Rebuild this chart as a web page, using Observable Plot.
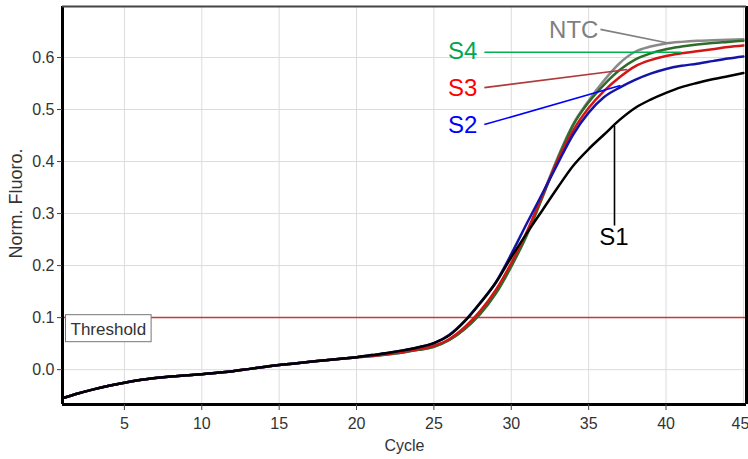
<!DOCTYPE html>
<html><head><meta charset="utf-8">
<script src="https://cdn.jsdelivr.net/npm/d3@7"></script>
<script src="https://cdn.jsdelivr.net/npm/@observablehq/plot@0.6"></script>
<style>body{margin:0;background:#fff;overflow:hidden;}</style>
</head><body><div id="chart"></div>
<script>
// ---- data ----
const cycles = d3.range(1, 46);
const seriesNames = ["NTC", "S4", "S3", "S2", "S1"];
const baseline = [-0.055,-0.046,-0.038,-0.031,-0.025,-0.020,-0.016,-0.013,-0.011,-0.009,
  -0.006,-0.003,0.001,0.005,0.009,0.012,0.015,0.018,0.021,0.024];
const s1Late = [0.028,0.032,0.037,0.043,0.051,0.066,0.093,0.128,0.167,0.216,0.262,0.306,0.350,0.392,0.424,0.452,0.480,0.503,0.519,0.532,0.543,0.551,0.558,0.564,0.570];
const s2Late = [0.028,0.032,0.037,0.043,0.051,0.067,0.094,0.129,0.168,0.222,0.281,0.338,0.396,0.452,0.494,0.524,0.542,0.557,0.569,0.578,0.584,0.588,0.593,0.598,0.602];
const s3Late = [0.026,0.030,0.034,0.039,0.046,0.059,0.082,0.113,0.153,0.205,0.265,0.334,0.402,0.460,0.503,0.536,0.562,0.583,0.595,0.603,0.608,0.612,0.616,0.620,0.623];
const s4Late = [0.026,0.029,0.033,0.038,0.044,0.057,0.078,0.107,0.146,0.198,0.258,0.330,0.405,0.470,0.514,0.548,0.576,0.596,0.608,0.616,0.621,0.625,0.628,0.630,0.632];
const ntcLate = [0.026,0.029,0.033,0.038,0.044,0.057,0.079,0.108,0.148,0.201,0.262,0.334,0.408,0.472,0.517,0.556,0.589,0.611,0.621,0.627,0.630,0.632,0.633,0.634,0.635];
const S1 = baseline.concat(s1Late);
const S2 = baseline.concat(s2Late);
const S3 = baseline.concat(s3Late);
const S4 = baseline.concat(s4Late);
const NTC = baseline.concat(ntcLate);
const threshold = [0.1];
const thresholdLabel = "Threshold";
const xTicks = [5, 10, 15, 20, 25, 30, 35, 40, 45];
const yTicks = [0, 0.1, 0.2, 0.3, 0.4, 0.5, 0.6];
const xDomain = [1, 45.2];
const yDomain = [-0.067, 0.698];
const xTitle = "Cycle";
const yTitle = "Norm. Fluoro.";

// annotations (data coordinates)
const labelNames = ["NTC", "S4", "S3", "S2", "S1"];
const labelCycle = [35.63, 27.81, 27.81, 27.81, 36.63];
const labelValue = [0.652, 0.612, 0.541, 0.470, 0.255];
const leaderCycle1 = [35.76, 28.26, 28.26, 28.26, 36.67];
const leaderValue1 = [0.654, 0.610, 0.542, 0.471, 0.469];
const leaderCycle2 = [40.29, 41.0, 37.5, 37.05, 36.67];
const leaderValue2 = [0.627, 0.610, 0.577, 0.546, 0.277];

// styles
const curveColors = {NTC: "#8a8a8a", S4: "#2f6b2a", S3: "#d41515", S2: "#1414a8", S1: "#000000"};
const labelColors = ["#7f7f7f", "#00a651", "#ff0000", "#0000ff", "#000000"];
const leaderColors = ["#808080", "#00b050", "#b03a3a", "#0000ff", "#000000"];
const labelAnchors = ["end", "end", "end", "end", "middle"];

const seriesData = {NTC, S4, S3, S2, S1};
const rows = [];
for (const name of seriesNames) cycles.forEach((c, i) => rows.push({series: name, cycle: c, value: seriesData[name][i]}));

const lastTick = xTicks[xTicks.length - 1];
const marks = [
  Plot.gridX(xTicks, {stroke: "#dcdcdc", strokeOpacity: 1}),
  Plot.gridY(yTicks, {stroke: "#dcdcdc", strokeOpacity: 1}),
  Plot.ruleY(threshold, {stroke: "#c8393b", strokeWidth: 1.5}),
  Plot.text([{c: xDomain[0], v: threshold[0], t: thresholdLabel}], {x: "c", y: "v", text: "t", dx: 8, dy: 5, textAnchor: "start", lineAnchor: "top", fill: "#333", fontSize: 17, className: "thr"}),
];
for (const name of seriesNames) {
  marks.push(Plot.line(rows.filter(d => d.series === name), {x: "cycle", y: "value", stroke: curveColors[name], strokeWidth: 2.5, curve: "monotone-x"}));
}
labelNames.forEach((n, i) => {
  marks.push(Plot.link([i], {x1: j => leaderCycle1[j], y1: j => leaderValue1[j], x2: j => leaderCycle2[j], y2: j => leaderValue2[j], stroke: leaderColors[i], strokeWidth: 1.6}));
  marks.push(Plot.text([i], {x: j => labelCycle[j], y: j => labelValue[j], text: j => labelNames[j], fill: labelColors[i], fontSize: 24, textAnchor: labelAnchors[i]}));
});
marks.push(
  Plot.ruleX([xDomain[0]], {stroke: "#000", strokeWidth: 3}),
  Plot.ruleX([xDomain[1]], {stroke: "#000", strokeWidth: 3}),
  Plot.ruleY([yDomain[0]], {stroke: "#000", strokeWidth: 3}),
  Plot.ruleY([yDomain[1]], {stroke: "#444", strokeWidth: 2}),
  Plot.axisX(xTicks.filter(d => d !== lastTick), {tickSize: 6, tickPadding: 7, stroke: "#444", fill: "#333", fontSize: 16, label: xTitle, labelAnchor: "center", labelOffset: 46, labelArrow: false}),
  Plot.axisX([lastTick], {tickSize: 6, tickPadding: 7, stroke: "#444", fill: "#333", fontSize: 16, textAnchor: "end", dx: 6, label: null}),
  Plot.axisY(yTicks, {tickSize: 5, tickPadding: 3, stroke: "#444", fill: "#333", fontSize: 16, tickFormat: d3.format(".1f"), label: null}),
  Plot.text([yTitle], {frameAnchor: "left", textAnchor: "middle", lineAnchor: "middle", rotate: -90, dx: -46, dy: -2, fill: "#333", fontSize: 18})
);

const chart = Plot.plot({
  width: 748, height: 459,
  marginLeft: 62, marginRight: 2, marginTop: 6, marginBottom: 55,
  x: {domain: xDomain},
  y: {domain: yDomain},
  style: {fontFamily: "'Liberation Sans', Arial, sans-serif", fontSize: "16px", color: "#333", background: "#fff"},
  marks
});
document.getElementById("chart").appendChild(chart);

// box around threshold label
const t = chart.querySelector("g.thr text");
if (t) {
  const b = t.getBBox();
  const r = document.createElementNS("http://www.w3.org/2000/svg", "rect");
  r.setAttribute("x", b.x - 5); r.setAttribute("y", b.y - 5);
  r.setAttribute("width", b.width + 10); r.setAttribute("height", b.height + 8);
  r.setAttribute("fill", "#fff"); r.setAttribute("stroke", "#777"); r.setAttribute("stroke-width", 1);
  const g = t.parentNode;
  const tr = t.getAttribute("transform");
  if (tr) r.setAttribute("transform", tr);
  g.insertBefore(r, t);
}
</script>
</body></html>
